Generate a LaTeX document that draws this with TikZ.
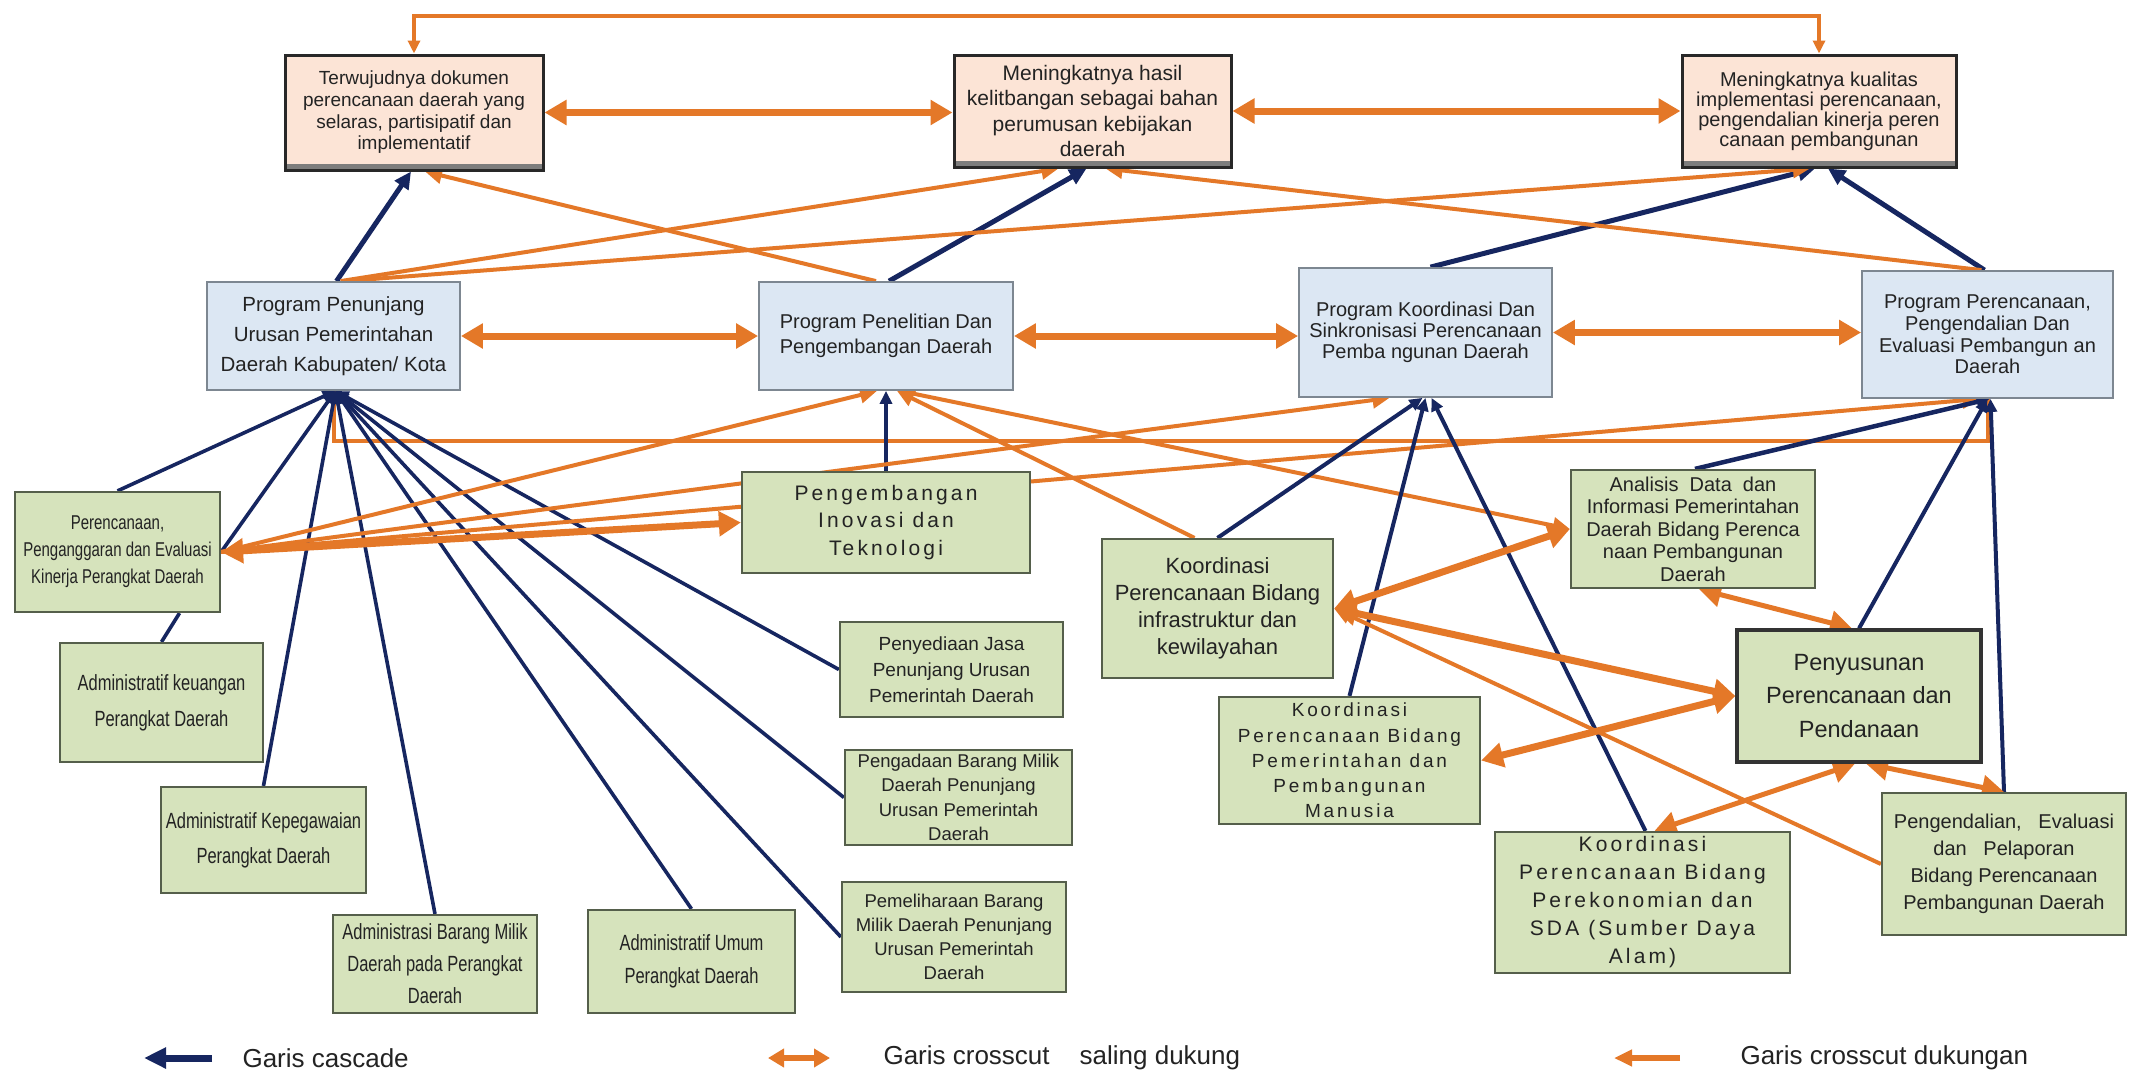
\documentclass[tikz,border=0pt]{standalone}
\usepackage{fontspec}
\setmainfont{Liberation Sans}
\newfontfamily\narrowfont[FakeStretch=0.75]{Liberation Sans}
\newfontfamily\spacedfont[LetterSpace=15]{Liberation Sans}
\usetikzlibrary{arrows.meta}
\definecolor{ink}{RGB}{35,35,35}
\definecolor{navy}{RGB}{22,38,96}
\definecolor{orng}{RGB}{228,120,40}
\definecolor{goalfill}{RGB}{252,228,214}
\definecolor{goalline}{RGB}{40,40,40}
\definecolor{goalshade}{RGB}{125,125,125}
\definecolor{progfill}{RGB}{220,231,243}
\definecolor{progline}{RGB}{125,135,145}
\definecolor{actfill}{RGB}{214,227,188}
\definecolor{actline}{RGB}{85,95,75}
\newcommand\fsz[2]{\fontsize{#1}{#2}\selectfont}
\pgfdeclarelayer{paper}
\pgfdeclarelayer{links}
\pgfsetlayers{paper,links,main}
\tikzset{
  TipL/.tip={Triangle[length=22pt,width=24pt]},
  TipM/.tip={Triangle[length=17pt,width=16pt]},
  TipS/.tip={Triangle[length=13pt,width=12pt]},
  every node/.style={text=ink},
  goal/.style={draw=goalline, fill=goalfill, line width=3pt, align=center, inner sep=2pt,
    path picture={\fill[goalshade] (path picture bounding box.south west)
      rectangle ([yshift=6pt]path picture bounding box.south east);}},
  prog/.style={draw=progline, fill=progfill, line width=1.8pt, align=center, inner sep=2pt},
  act/.style={draw=actline, fill=actfill, line width=2.2pt, align=center, inner sep=2pt},
  mutual/.style={draw=orng, line width=7pt, TipL-TipL},
  support/.style={draw=orng, line width=4pt, -TipM},
  elbow/.style={draw=orng, line width=4pt},
  casc/.style={draw=navy, line width=5pt, -TipM},
  fan/.style={draw=navy, line width=3.6pt, -TipS},
  legend/.style={anchor=west, font=\fsz{26}{30}},
}
\begin{document}
\begin{tikzpicture}[x=1pt,y=-1pt]
\begin{pgfonlayer}{paper}
  \fill[white] (0,0) rectangle (2129,1074);
\end{pgfonlayer}
\useasboundingbox (0,0) rectangle (2129,1074);

% ---- goals ----
\node[goal, minimum width=258pt, minimum height=115pt, font=\fsz{19}{21.7}] (T1) at (414,112.5)
  {Terwujudnya dokumen\\ perencanaan daerah yang\\ selaras, partisipatif dan\\ implementatif};
\node[goal, minimum width=277pt, minimum height=112pt, font=\fsz{21}{25.3}] (T2) at (1092.5,111)
  {Meningkatnya hasil\\ kelitbangan sebagai bahan\\ perumusan kebijakan\\ daerah};
\node[goal, minimum width=274pt, minimum height=112pt, font=\fsz{20}{20}] (T3) at (1819,111)
  {Meningkatnya kualitas\\ implementasi perencanaan,\\ pengendalian kinerja peren\\ canaan pembangunan};

% ---- programs ----
\node[prog, minimum width=253pt, minimum height=108pt, font=\fsz{20.5}{30}] (P1) at (333.5,336)
  {Program Penunjang\\ Urusan Pemerintahan\\ Daerah Kabupaten/ Kota};
\node[prog, minimum width=254pt, minimum height=108pt, font=\fsz{20}{25}] (P2) at (886,336)
  {Program Penelitian Dan\\ Pengembangan Daerah};
\node[prog, minimum width=253pt, minimum height=129pt, font=\fsz{20}{21}] (P3) at (1425.5,332.5)
  {Program Koordinasi Dan\\ Sinkronisasi Perencanaan\\ Pemba ngunan Daerah};
\node[prog, minimum width=251pt, minimum height=127pt, font=\fsz{20}{21.7}] (P4) at (1987.5,334.5)
  {Program Perencanaan,\\ Pengendalian Dan\\ Evaluasi Pembangun an\\ Daerah};

% ---- activities under P1 / P2 ----
\node[act, minimum width=205pt, minimum height=120pt, font=\narrowfont\fsz{20}{27}] (G1) at (117.5,552)
  {Perencanaan,\\ Penganggaran dan Evaluasi\\ Kinerja Perangkat Daerah};
\node[act, minimum width=203pt, minimum height=119pt, font=\narrowfont\fsz{22}{36}] (G2) at (161.5,702.5)
  {Administratif keuangan\\ Perangkat Daerah};
\node[act, minimum width=205pt, minimum height=106pt, font=\narrowfont\fsz{22}{35}] (G3) at (263.5,840)
  {Administratif Kepegawaian\\ Perangkat Daerah};
\node[act, minimum width=204pt, minimum height=98pt, font=\narrowfont\fsz{22}{32}] (G4) at (435,964)
  {Administrasi Barang Milik\\ Daerah pada Perangkat\\ Daerah};
\node[act, minimum width=207pt, minimum height=103pt, font=\narrowfont\fsz{22}{33}] (G5) at (691.5,961.5)
  {Administratif Umum\\ Perangkat Daerah};
\node[act, minimum width=224pt, minimum height=110pt, font=\fsz{18.5}{24}] (G6) at (954,937)
  {Pemeliharaan Barang\\ Milik Daerah Penunjang\\ Urusan Pemerintah\\ Daerah};
\node[act, minimum width=227pt, minimum height=95pt, font=\fsz{18.5}{24.5}] (G7) at (958.5,797.5)
  {Pengadaan Barang Milik\\ Daerah Penunjang\\ Urusan Pemerintah\\ Daerah};
\node[act, minimum width=223pt, minimum height=95pt, font=\fsz{19}{26}] (G8) at (951.5,669.5)
  {Penyediaan Jasa\\ Penunjang Urusan\\ Pemerintah Daerah};
\node[act, minimum width=288pt, minimum height=101pt, font=\spacedfont\fsz{21}{27.5}] (G9) at (886,522.5)
  {Pengembangan\\ Inovasi dan\\ Teknologi};

% ---- activities under P3 / P4 ----
\node[act, minimum width=231pt, minimum height=139pt, font=\fsz{22}{27}] (K1) at (1217.5,608.5)
  {Koordinasi\\ Perencanaan Bidang\\ infrastruktur dan\\ kewilayahan};
\node[act, minimum width=261pt, minimum height=127pt, font=\spacedfont\fsz{19}{25.3}] (K2) at (1349.5,760.5)
  {Koordinasi\\ Perencanaan Bidang\\ Pemerintahan dan\\ Pembangunan\\ Manusia};
\node[act, minimum width=295pt, minimum height=141pt, font=\spacedfont\fsz{21}{28}] (K3) at (1642.5,902.5)
  {Koordinasi\\ Perencanaan Bidang\\ Perekonomian dan\\ SDA (Sumber Daya\\ Alam)};
\node[act, minimum width=244pt, minimum height=118pt, font=\fsz{20}{22.5}] (AN) at (1693,529)
  {Analisis~ Data~ dan\\ Informasi Pemerintahan\\ Daerah Bidang Perenca\\ naan Pembangunan\\ Daerah};
\node[act, draw=black!80, line width=3.2pt, minimum width=244pt, minimum height=132pt, font=\fsz{23.5}{33.5}] (PY) at (1859,696)
  {Penyusunan\\ Perencanaan dan\\ Pendanaan};
\node[act, minimum width=244pt, minimum height=142pt, font=\fsz{20}{27}] (PG) at (2004,864)
  {Pengendalian,~~ Evaluasi\\ dan~~ Pelaporan\\ Bidang Perencanaan\\ Pembangunan Daerah};

% ---- legend ----
\coordinate (la1) at (212,1058);  \coordinate (la2) at (144,1058);
\coordinate (lb1) at (768,1058);  \coordinate (lb2) at (830,1058);
\coordinate (lc1) at (1680,1058); \coordinate (lc2) at (1614,1058);
\node[legend] (L1) at (239,1058) {Garis cascade};
\node[legend] (L2) at (880,1058) {Garis crosscut\hspace{30pt}saling dukung};
\node[legend] (L3) at (1737,1058) {Garis crosscut dukungan};

\coordinate (topline) at (0,16);

\begin{pgfonlayer}{links}
  % goal to goal
  \draw[elbow, TipS-TipS] (T1.north) -- (T1.north |- topline) -- (T3.north |- topline) -- (T3.north);
  \draw[mutual] (T1.east) -- (T1.east -| T2.west);
  \draw[mutual] (T2.east) -- (T3.west);
  % program to program
  \draw[mutual] (P1.east) -- (P2.west);
  \draw[mutual] (P2.east) -- (P2.east -| P3.west);
  \draw[mutual] (P3.east) -- (P3.east -| P4.west);
  \draw[elbow] (P1.south) -- ++(0,50) -| (P4.south);
  % program to goal
  \draw[casc] ([xshift=3pt]P1.north) -- ([xshift=-3pt]T1.south);
  \draw[casc] ([xshift=3pt]P2.north) -- ([xshift=-6pt]T2.south);
  \draw[casc] ([xshift=5pt]P3.north) -- ([xshift=-4pt]T3.south);
  \draw[casc] ([xshift=-3pt]P4.north) -- ([xshift=9pt]T3.south);
  \draw[support] ([xshift=7pt]P1.north) -- ([xshift=-34pt]T2.south);
  \draw[support] ([xshift=12pt]P1.north) -- ([xshift=-9pt]T3.south);
  \draw[support] ([xshift=-10pt]P2.north) -- ([xshift=11pt]T1.south);
  \draw[support] ([xshift=-6pt]P4.north) -- ([xshift=13pt]T2.south);
  % activities to P1 and P2
  \foreach \src in {G1.north, G1.east, G3.north, G4.north, G5.north, G6.west, G7.west, G8.west}
    \draw[fan] (\src) -- ([xshift=2pt]P1.south);
  \draw[navy, line width=3.6pt] (G2.north) -- ([xshift=62pt]G1.south);
  \draw[fan, line width=4pt] (G9.north) -- (G9.north |- P2.south);
  \draw[mutual] (G1.east) -- (G9.west);
  \draw[support] (G1.east) -- ([xshift=-9pt]P2.south);
  \draw[support] (G1.east) -- ([xshift=-36pt]P3.south);
  \draw[support] (G1.east) -- ([xshift=-8pt]P4.south);
  \draw[support] ([xshift=-23pt]K1.north) -- ([xshift=11pt]P2.south);
  \draw[support] ([xshift=14pt]P2.south) -- (AN.west);
  % activities to P3 and P4
  \draw[fan, line width=4pt] (K1.north) -- ([xshift=-3pt]P3.south);
  \draw[fan, line width=4pt] (K2.north) -- (P3.south);
  \draw[fan, line width=4pt] ([xshift=3pt]K3.north) -- ([xshift=6pt]P3.south);
  \draw[fan, line width=4.5pt] ([xshift=2pt]AN.north) -- ([xshift=2pt]P4.south);
  \draw[fan, line width=4pt] (PY.north) -- (P4.south);
  \draw[fan, line width=4pt] (PG.north) -- ([xshift=3pt]P4.south);
  % crosscut among activities
  \draw[mutual] (K1.east) -- (AN.west);
  \draw[mutual] (K1.east) -- (PY.west);
  \draw[mutual] (K2.east) -- (PY.west);
  \draw[mutual, line width=5pt] ([xshift=6pt]AN.south) -- ([xshift=-7pt]PY.north);
  \draw[mutual, line width=5pt] ([xshift=12pt]K3.north) -- ([xshift=-4pt]PY.south);
  \draw[mutual, line width=5pt] ([xshift=7pt]PY.south) -- (PG.north);
  \draw[support] (PG.west) -- (K1.east);
  % legend samples
  \draw[casc, line width=7pt, -{Triangle[length=22pt,width=20pt]}] (la1) -- (la2);
  \draw[mutual, line width=6pt, {Triangle[length=16pt,width=18pt]}-{Triangle[length=16pt,width=18pt]}] (lb1) -- (lb2);
  \draw[support, line width=6pt, -{Triangle[length=18pt,width=16pt]}] (lc1) -- (lc2);
\end{pgfonlayer}
\end{tikzpicture}
\end{document}
